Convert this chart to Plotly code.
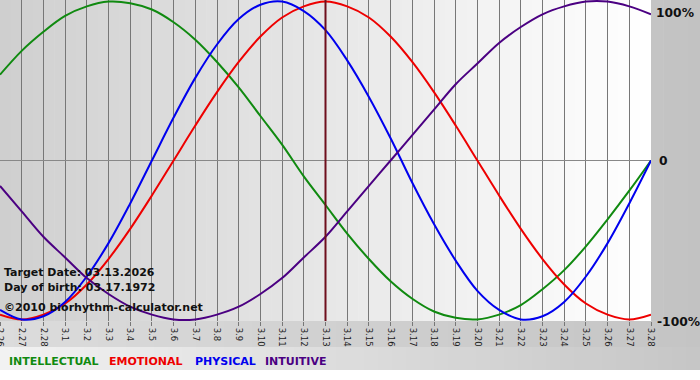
import plotly.graph_objects as go

# ---- data ----
dates = ["2.26", "2.27", "2.28"] + [f"3.{d}" for d in range(1, 29)]
target_date = "3.13"

intellectual = [0.54, 0.69, 0.81, 0.91, 0.97, 1.00, 0.99, 0.95, 0.87, 0.76, 0.62, 0.46, 0.28, 0.10,
                -0.10, -0.28, -0.46, -0.62, -0.76, -0.87, -0.95, -0.99, -1.00, -0.97, -0.91, -0.81,
                -0.69, -0.54, -0.37, -0.19, 0.00]
emotional = [-0.97, -1.00, -0.97, -0.90, -0.78, -0.62, -0.43, -0.22, 0.00, 0.22, 0.43, 0.62, 0.78, 0.90,
             0.97, 1.00, 0.97, 0.90, 0.78, 0.62, 0.43, 0.22, 0.00, -0.22, -0.43, -0.62, -0.78, -0.90,
             -0.97, -1.00, -0.97]
physical = [-0.94, -1.00, -0.98, -0.89, -0.73, -0.52, -0.27, 0.00, 0.27, 0.52, 0.73, 0.89, 0.98, 1.00,
            0.94, 0.82, 0.63, 0.40, 0.14, -0.14, -0.40, -0.63, -0.82, -0.94, -1.00, -0.98, -0.89,
            -0.73, -0.52, -0.27, 0.00]
intuitive = [-0.16, -0.32, -0.48, -0.61, -0.74, -0.84, -0.92, -0.97, -1.00, -1.00, -0.97, -0.92, -0.84,
             -0.74, -0.61, -0.48, -0.32, -0.16, 0.00, 0.16, 0.32, 0.48, 0.61, 0.74, 0.84, 0.92, 0.97,
             1.00, 1.00, 0.97, 0.92]

series_names = ["INTELLECTUAL", "EMOTIONAL", "PHYSICAL", "INTUITIVE"]
series_colors = ["#108a10", "#ee0000", "#0000ee", "#4b0082"]
y_tick_labels = ["100%", "0", "-100%"]

W, H = 700, 380
L, R, T, B = 0, 49, 0, 59
pw = W - L - R
ph = H - T - B


def px_x(p):
    return (p - L) / pw


def px_y(p):
    return (H - B - p) / ph


def lerp_color(c0, c1, t):
    a = [int(c0[i:i + 2], 16) for i in (1, 3, 5)]
    b = [int(c1[i:i + 2], 16) for i in (1, 3, 5)]
    c = [round(a[k] + (b[k] - a[k]) * t) for k in range(3)]
    return "#%02x%02x%02x" % tuple(c)


shapes = []


def gradient_band(x0p, x1p, y0p, y1p, c0, c1, n=40):
    step = (x1p - x0p) / n
    for k in range(n):
        shapes.append(dict(type="rect", xref="paper", yref="paper",
                           x0=px_x(x0p + k * step), x1=px_x(x0p + (k + 1) * step + 0.6),
                           y0=px_y(y1p), y1=px_y(y0p),
                           fillcolor=lerp_color(c0, c1, (k + 0.5) / n),
                           line=dict(width=0), layer="below"))


# backgrounds
gradient_band(0, 651, 0, 321, "#cfcfcf", "#ffffff", 60)
gradient_band(651, 700, 0, 321, "#c4c4c4", "#c2c2c2", 4)
gradient_band(0, 700, 321, 347, "#dcdcdc", "#c4c4c4", 50)
gradient_band(0, 700, 347, 370, "#f2f2f2", "#c6c6c6", 50)

# target date line (category index of the target date)
t_idx = dates.index(target_date)
shapes.append(dict(type="line", xref="x", yref="paper", x0=t_idx, x1=t_idx,
                   y0=0, y1=1, line=dict(color="#6e0f1c", width=2), layer="above"))

fig = go.Figure()
for name, vals, col in zip(series_names, [intellectual, emotional, physical, intuitive], series_colors):
    fig.add_trace(go.Scatter(x=dates, y=vals, mode="lines", name=name,
                             line=dict(color=col, width=2, shape="spline", smoothing=1.0),
                             hoverinfo="skip"))

annotations = []
# right-side y labels
for txt, ypx, xpx in zip(y_tick_labels, [13, 161, 322], [654, 657, 655]):
    annotations.append(dict(text="<b>%s</b>" % txt, xref="paper", yref="paper",
                            x=px_x(xpx), y=px_y(ypx),
                            xanchor="left", yanchor="middle", showarrow=False,
                            font=dict(family="DejaVu Sans", size=12.3, color="#111111")))

# info text block
for txt, ypx in [("Target Date: 03.13.2026", 272), ("Day of birth: 03.17.1972", 287),
                 ("\u00a92010 biorhythm-calculator.net", 307)]:
    annotations.append(dict(text="<b>%s</b>" % txt, xref="paper", yref="paper",
                            x=px_x(2), y=px_y(ypx), xanchor="left", yanchor="middle",
                            showarrow=False,
                            font=dict(family="DejaVu Sans", size=11, color="#111111")))

# legend text at bottom
for name, col, xpx in zip(series_names, series_colors, [7, 107, 193, 263]):
    annotations.append(dict(text="<b>%s</b>" % name, xref="paper", yref="paper",
                            x=px_x(xpx), y=px_y(361), xanchor="left", yanchor="middle",
                            showarrow=False,
                            font=dict(family="DejaVu Sans", size=11, color=col)))

fig.update_layout(
    width=W, height=H,
    margin=dict(l=L, r=R, t=T, b=B, pad=0, autoexpand=False),
    paper_bgcolor="#ffffff",
    plot_bgcolor="rgba(0,0,0,0)",
    showlegend=False,
    shapes=shapes,
    annotations=annotations,
    xaxis=dict(type="category", range=[0, len(dates) - 1], showgrid=True,
               gridcolor="#777777", gridwidth=1, ticks="outside", ticklen=4,
               tickcolor="#777777", tickangle=90, automargin=False,
               tickfont=dict(family="DejaVu Sans", size=8.5, color="#222222"),
               showline=False, zeroline=False, fixedrange=True),
    yaxis=dict(range=[-1.01, 1.01], showgrid=False, showticklabels=False,
               zeroline=True, zerolinecolor="#888888", zerolinewidth=1,
               showline=False, fixedrange=True, automargin=False),
)

fig.write_html("out.html", config={"displayModeBar": False},
               post_script="document.body.style.margin='0';document.body.style.overflow='hidden';")
